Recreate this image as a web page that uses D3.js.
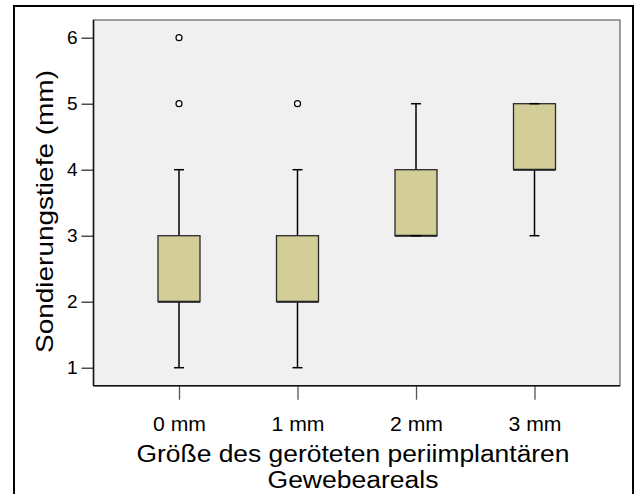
<!DOCTYPE html>
<html>
<head>
<meta charset="utf-8">
<script src="https://cdn.jsdelivr.net/npm/d3@7"></script>
<style>
  html, body { margin: 0; padding: 0; background: #fff; }
  svg { display: block; }
  text { font-family: "Liberation Sans", Arial, Helvetica, sans-serif; fill: #000; }
</style>
</head>
<body>
<svg id="chart" width="638" height="494"></svg>
<script>
// ---- data ----
const categories = ["0 mm", "1 mm", "2 mm", "3 mm"];
const whiskerLow  = [1, 1, 3, 3];
const q1          = [2, 2, 3, 4];
const median      = [2, 2, 3, 4];
const q3          = [3, 3, 4, 5];
const whiskerHigh = [4, 4, 5, 5];
const outliers    = [[5, 6], [5], [], []];
const yTicks      = [1, 2, 3, 4, 5, 6];
const xTitleLines = ["Größe des geröteten periimplantären", "Gewebeareals"];
const yTitle      = "Sondierungstiefe (mm)";

// ---- layout ----
const W = 638, H = 494;
const plot = { left: 93.5, top: 20, right: 620, bottom: 385.7 };
const svg = d3.select("#chart");

const x = d3.scalePoint().domain(categories).range([179, 534.5]);
const y = d3.scaleLinear().domain([1, 6]).range([367.7, 37.7]);
const boxW = 42, capW = 10;

// outer frame
svg.append("rect").attr("x", 14).attr("y", 6).attr("width", 619).attr("height", 520)
  .attr("fill", "#fff").attr("stroke", "#000").attr("stroke-width", 2);

// plot background
svg.append("rect").attr("x", plot.left).attr("y", plot.top)
  .attr("width", plot.right - plot.left).attr("height", plot.bottom - plot.top)
  .attr("fill", "#f0f0f0").attr("stroke", "#6e6e6e").attr("stroke-width", 1.3);

// y axis
const yAxis = d3.axisLeft(y).tickValues(yTicks).tickSize(12).tickPadding(4).tickFormat(d3.format("d"));
const gy = svg.append("g").attr("transform", `translate(${plot.left},0)`).call(yAxis);
gy.select(".domain").remove();
gy.selectAll(".tick line").attr("stroke", "#222").attr("stroke-width", 1.2);
gy.selectAll(".tick text").attr("font-size", 19).attr("fill", "#000")
  .style("font-family", "Liberation Sans, Arial, sans-serif");
svg.append("line").attr("x1", plot.left).attr("x2", plot.left)
  .attr("y1", plot.top).attr("y2", plot.bottom).attr("stroke", "#111").attr("stroke-width", 1.5);

// x axis
const xAxis = d3.axisBottom(x).tickSize(14).tickPadding(17);
const gx = svg.append("g").attr("transform", `translate(0,${plot.bottom})`).call(xAxis);
gx.select(".domain").remove();
gx.selectAll(".tick line").attr("stroke", "#555").attr("stroke-width", 1.3);
gx.selectAll(".tick text").attr("font-size", 19.5).attr("fill", "#000")
  .style("font-family", "Liberation Sans, Arial, sans-serif")
  .each(function () {
    const l = this.getComputedTextLength();
    d3.select(this).attr("textLength", 53).attr("lengthAdjust", "spacingAndGlyphs");
  });
svg.append("line").attr("x1", plot.left).attr("x2", plot.right)
  .attr("y1", plot.bottom).attr("y2", plot.bottom).attr("stroke", "#111").attr("stroke-width", 1.5);

// boxes
const boxes = categories.map((c, i) => ({
  c, lo: whiskerLow[i], q1: q1[i], med: median[i], q3: q3[i], hi: whiskerHigh[i], out: outliers[i]
}));
const g = svg.append("g");
boxes.forEach(b => {
  const cx = x(b.c);
  // whiskers
  g.append("line").attr("x1", cx).attr("x2", cx).attr("y1", y(b.q3)).attr("y2", y(b.hi))
    .attr("stroke", "#000").attr("stroke-width", 1.5);
  g.append("line").attr("x1", cx).attr("x2", cx).attr("y1", y(b.q1)).attr("y2", y(b.lo))
    .attr("stroke", "#000").attr("stroke-width", 1.5);
  // box
  g.append("rect").attr("x", cx - boxW / 2).attr("y", y(b.q3))
    .attr("width", boxW).attr("height", y(b.q1) - y(b.q3))
    .attr("fill", "#d3ce98").attr("stroke", "#2a2a2a").attr("stroke-width", 1.3);
  // median
  g.append("line").attr("x1", cx - boxW / 2).attr("x2", cx + boxW / 2)
    .attr("y1", y(b.med)).attr("y2", y(b.med)).attr("stroke", "#222").attr("stroke-width", 2);
  // caps
  [b.lo, b.hi].forEach(v => {
    g.append("line").attr("x1", cx - capW / 2).attr("x2", cx + capW / 2)
      .attr("y1", y(v)).attr("y2", y(v)).attr("stroke", "#000").attr("stroke-width", 1.5);
  });
  // outliers
  g.selectAll(null).data(b.out).enter().append("circle")
    .attr("cx", cx).attr("cy", d => y(d)).attr("r", 3)
    .attr("fill", "#fff").attr("stroke", "#000").attr("stroke-width", 1.2);
});

// x title
const xTitleWidths = [433, 171];
const xTitleBase = [461.5, 488];
xTitleLines.forEach((t, i) => {
  svg.append("text").attr("x", 353).attr("y", xTitleBase[i]).attr("text-anchor", "middle")
    .attr("font-size", 23.5).attr("textLength", xTitleWidths[i]).attr("lengthAdjust", "spacingAndGlyphs")
    .text(t);
});

// y title
svg.append("text").attr("transform", "translate(53,211.5) rotate(-90)")
  .attr("text-anchor", "middle").attr("font-size", 24.5)
  .attr("textLength", 283).attr("lengthAdjust", "spacingAndGlyphs")
  .text(yTitle);
</script>
</body>
</html>
